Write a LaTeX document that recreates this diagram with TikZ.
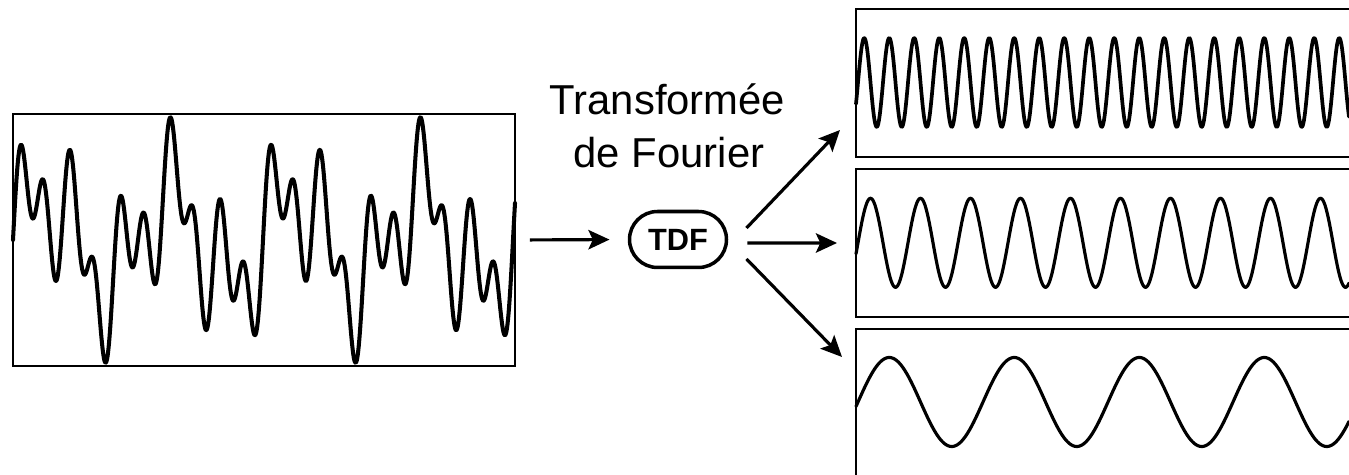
\documentclass[tikz,border=0pt]{standalone}
\usepackage{fontspec}
\setmainfont{Liberation Sans}
\usetikzlibrary{arrows.meta}

\newcommand{\FOUw}[3]{\draw[wave,line width=#3] plot[domain=856:1349,samples=800] (\x,{#1-44.5*sin(360/#2*(\x-858))});}
\newcommand{\FOUbox}[3]{\node[sigbox,minimum width=10.3cm,minimum height=#3] (#1) at (#2) {};}

\tikzset{
  sigbox/.style={draw,line width=1.2pt,inner sep=0pt,outer sep=0pt},
  wave/.style={line join=round,line cap=round},
  arr/.style={line width=1.8pt,-{Stealth[length=12pt,width=11pt,inset=2.5pt]}},
}

\begin{document}
\begin{tikzpicture}[x=0.02cm,y=-0.02cm]
  \useasboundingbox (0,0) rectangle (1349,475);
  \clip (0,0) rectangle (1349,475);
  % input signal
  \node[sigbox,minimum width=10.04cm,minimum height=5.04cm] (in) at (264,240) {};
  \draw[wave,line width=2.3pt] plot[domain=13:515,samples=1000]
    (\x,{240-44.5*(sin(14.4*(\x-13))+sin(7.2*(\x-13))+sin(2.88*(\x-13)))});
  % transform
  \node[draw,line width=2pt,rounded corners=0.56cm,minimum width=1.94cm,minimum height=1.12cm,
        inner sep=0pt,outer sep=0pt,font=\fontsize{17.5}{20}\selectfont\bfseries] (tdf) at (678,239.5) {TDF};
  \node[anchor=base,font=\fontsize{23.8}{28}\selectfont] (lab1) at (667.5,115) {Transformée};
  \node[anchor=base,font=\fontsize{23.8}{28}\selectfont] (lab2) at (669,168) {de Fourier};
  % components
  \FOUbox{f1}{1113,83}{2.96cm}
  \FOUbox{f2}{1113,243}{2.96cm}
  \FOUbox{f3}{1113,407}{3.12cm}
  \FOUw{82.5}{25}{2.1pt}
  \FOUw{242.8}{50}{1.8pt}
  \FOUw{402}{125}{1.8pt}
  % arrows
  \coordinate (h1) at (840,130);
  \coordinate (h2) at (837,243);
  \coordinate (h3) at (842,357);
  \draw[arr,shorten <=0.3cm,shorten >=0.4cm] (in.east) -- (tdf.west);
  \draw[arr] ([xshift=0.4cm,yshift=0.23cm]tdf.east) -- (h1);
  \draw[arr] ([xshift=0.42cm,yshift=-0.07cm]tdf.east) -- (h2);
  \draw[arr] ([xshift=0.4cm,yshift=-0.39cm]tdf.east) -- (h3);
\end{tikzpicture}
\end{document}
